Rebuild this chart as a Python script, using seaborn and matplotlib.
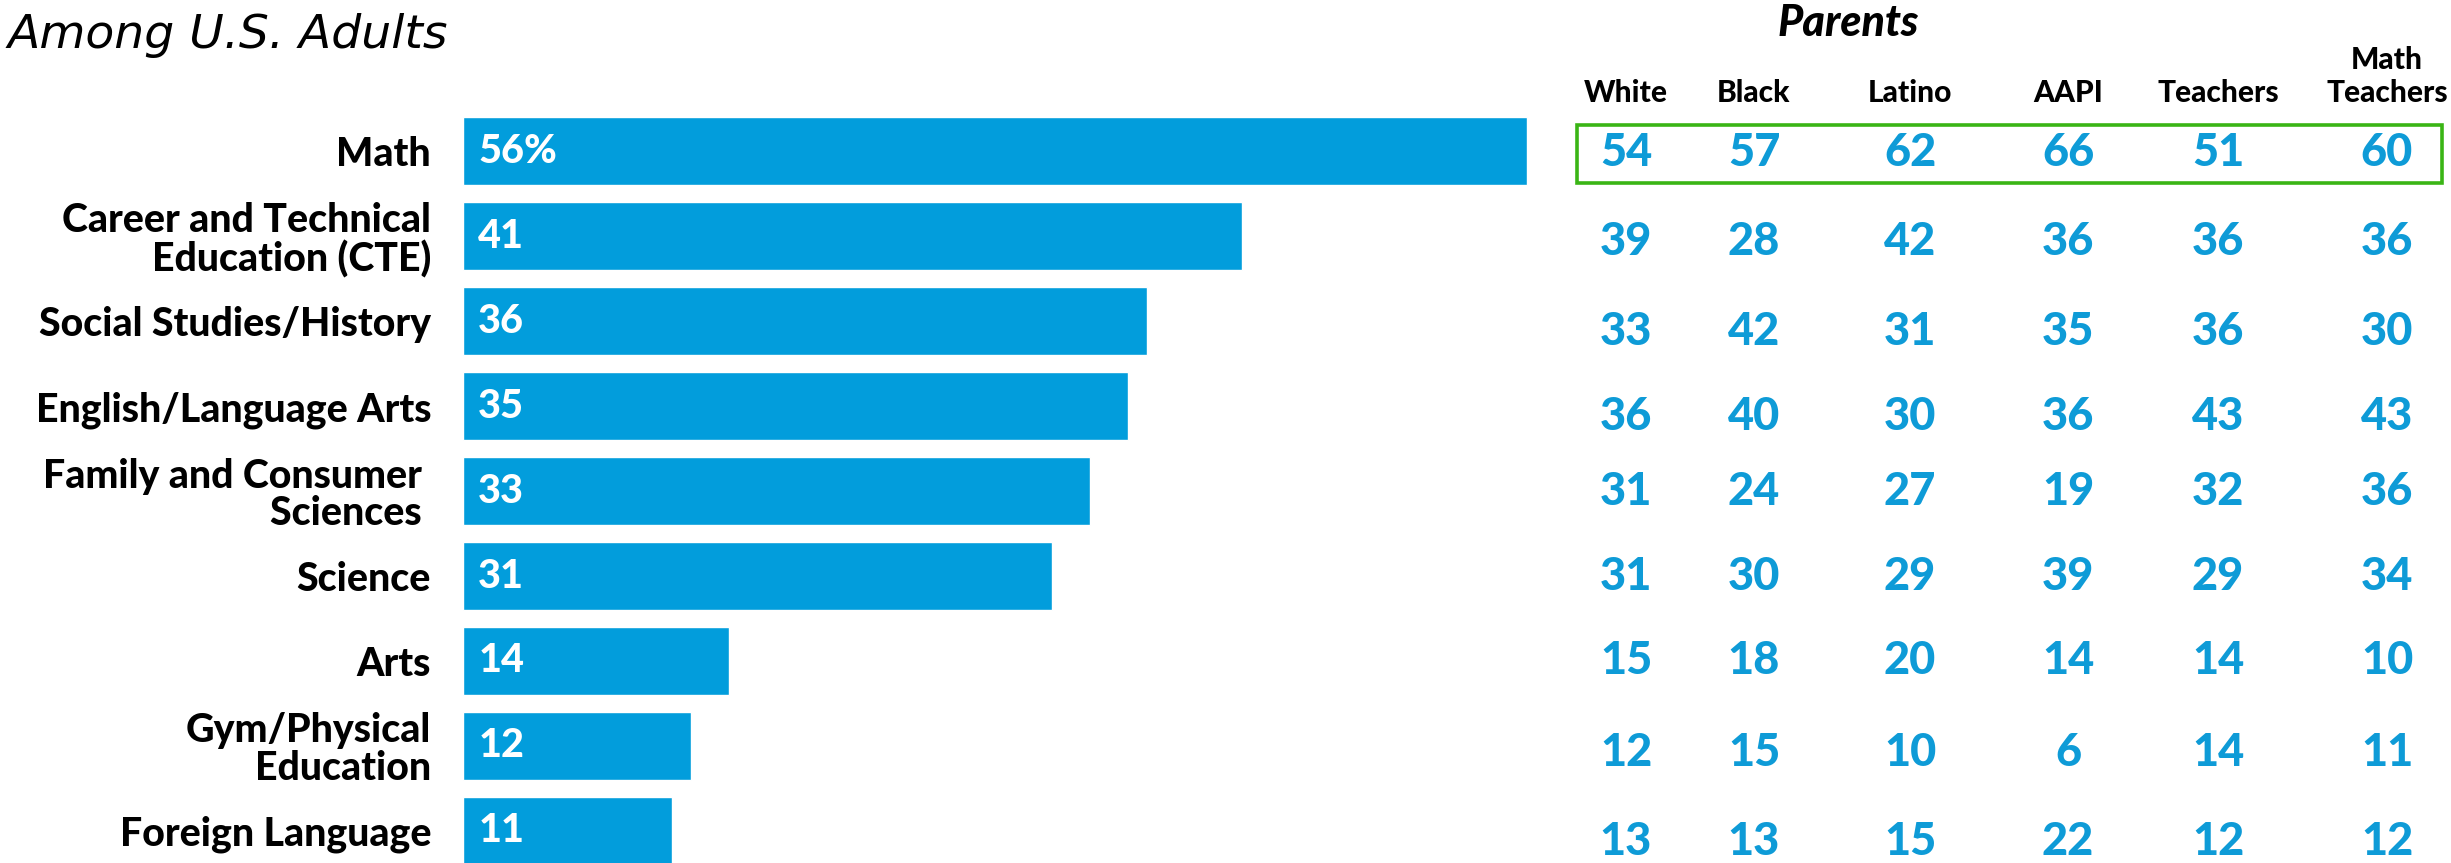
import matplotlib
matplotlib.use("Agg")
import matplotlib.pyplot as plt
import matplotlib.transforms as mtransforms
from matplotlib.patches import Rectangle
import seaborn as sns
import pandas as pd

# ---- data -------------------------------------------------------------
subjects = [
    "Math",
    "Career and Technical\nEducation (CTE)",
    "Social Studies/History",
    "English/Language Arts",
    "Family and Consumer \nSciences ",
    "Science",
    "Arts",
    "Gym/Physical\nEducation",
    "Foreign Language",
]
all_adults = [56, 41, 36, 35, 33, 31, 14, 12, 11]

group_headers = ["White", "Black", "Latino", "AAPI", "Teachers", "Math\nTeachers"]
white = [54, 39, 33, 36, 31, 31, 15, 12, 13]
black = [57, 28, 42, 40, 24, 30, 18, 15, 13]
latino = [62, 42, 31, 30, 27, 29, 20, 10, 15]
aapi = [66, 36, 35, 36, 19, 39, 14, 6, 22]
teachers = [51, 36, 36, 43, 32, 29, 14, 14, 12]
math_teachers = [60, 36, 30, 43, 36, 34, 10, 11, 12]
group_values = [white, black, latino, aapi, teachers, math_teachers]

subtitle = "Among U.S. Adults"
parents_label = "Parents"

# ---- styling / layout -------------------------------------------------
BLUE = "#029DDC"
NUM_BLUE = "#0E9BD7"
GREEN = "#3AB515"
W, H = 2451, 863
HEAVY = "black"

sns.set_theme(style="white")
plt.rcParams["font.family"] = ["Lato", "DejaVu Sans"]

fig = plt.figure(figsize=(W / 100, H / 100), dpi=100)
fig.patch.set_facecolor("white")

# bar panel: left edge at x=463 px, 19 px per percentage point
left_px, px_per_unit = 463, 19.0
ax = fig.add_axes([left_px / W, 0, (W - left_px) / W, 754 / H])

df = pd.DataFrame({"subject": subjects, "pct": all_adults})
sns.barplot(data=df, x="pct", y="subject", orient="h", color=BLUE,
            saturation=1, width=0.80, ax=ax)

ax.set_xlim(0, (W - left_px) / px_per_unit)
ax.set_ylim(8.38, -0.5)
ax.set_xlabel("")
ax.set_ylabel("")
ax.set_xticks([])
sns.despine(ax=ax, left=True, bottom=True)
ax.tick_params(axis="y", length=0, pad=23)
for lab in ax.get_yticklabels():
    lab.set_fontsize(28.3)
    lab.set_fontweight(HEAVY)
    lab.set_color("black")
    lab.set_linespacing(1.02)

# values inside the bars
for i, v in enumerate(all_adults):
    txt = f"{v}%" if i == 0 else f"{v}"
    ax.text(0.8, i, txt, color="white", fontsize=28.5, fontweight=HEAVY,
            ha="left", va="center")

# ---- table on the right ----------------------------------------------
blend = mtransforms.blended_transform_factory(fig.transFigure, ax.transData)
col_x_px = [1626, 1754, 1910, 2068, 2218, 2387]
row_shift = [0.02, 0.07, 0.13, 0.13, 0.01, 0.01, 0.0, 0.09, 0.13]

for cx, vals in zip(col_x_px, group_values):
    for i, v in enumerate(vals):
        ax.text(cx / W, i + row_shift[i], f"{v}", transform=blend,
                color=NUM_BLUE, fontsize=32.5, fontweight=HEAVY,
                ha="center", va="center", clip_on=False)

for cx, head in zip(col_x_px, group_headers):
    fig.text(cx / W, 1 - 102 / H, head, ha="center", va="baseline",
             fontsize=21.5, fontweight=HEAVY, color="black", linespacing=1.2)

fig.text(1848 / W, 1 - 23 / H, parents_label, ha="center", va="center",
         fontsize=31, fontweight=HEAVY, fontstyle="italic", color="black")

# highlight box around the first row of the table
box = Rectangle((1577 / W, -0.31), (2442 - 1577) / W, 0.683,
                transform=blend, fill=False, edgecolor=GREEN,
                linewidth=2.6, clip_on=False)
ax.add_patch(box)

# subtitle
fig.text(8 / W, 1 - 48 / H, subtitle, ha="left", va="baseline",
         fontsize=34, fontweight="normal", fontstyle="italic", color="black",
         family=["DejaVu Sans"])

fig.savefig("out.png", dpi=100, facecolor="white")
